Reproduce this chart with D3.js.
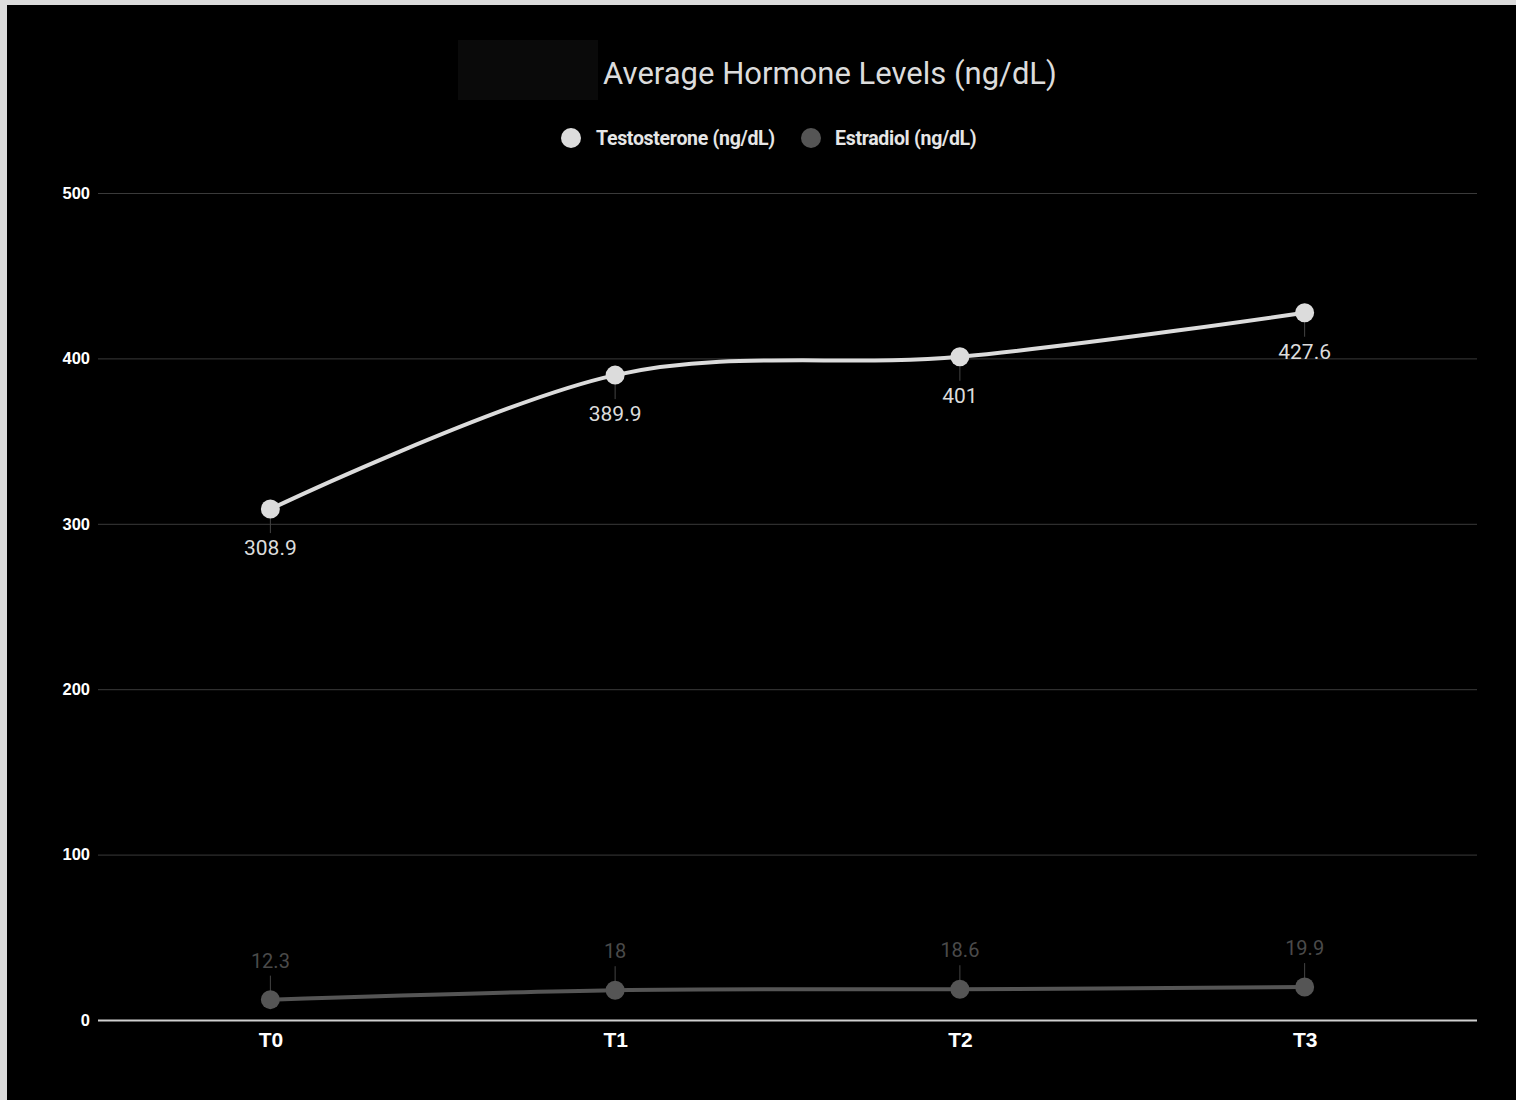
<!DOCTYPE html>
<html><head><meta charset="utf-8">
<script src="https://cdn.jsdelivr.net/npm/d3@7"></script>
<style>body{margin:0;background:#dcdcdc;}svg{display:block;font-family:Roboto,"Noto Sans",sans-serif;}</style>
</head><body>
<svg id="c" width="1516" height="1100"></svg>
<script>
const categories = ["T0","T1","T2","T3"];
const testosterone = [308.9, 389.9, 401, 427.6];
const estradiol = [12.3, 18, 18.6, 19.9];
const yTicks = [0,100,200,300,400,500];
const seriesNames = ["Testosterone (ng/dL)","Estradiol (ng/dL)"];

const svg = d3.select("#c");
svg.append("rect").attr("x",7).attr("y",5).attr("width",1509).attr("height",1095).attr("fill","#000");
svg.append("rect").attr("x",458).attr("y",40).attr("width",140).attr("height",60).attr("fill","#0a0a0a");

const x = d3.scalePoint().domain(categories).range([98,1477]).padding(0.5);
const y = d3.scaleLinear().domain([0,500]).range([1020,193]);

// grid
const yAxis = d3.axisLeft(y).tickValues(yTicks).tickSize(-(1477-98)).tickPadding(8);
const ga = svg.append("g").attr("transform","translate(98,0)").call(yAxis);
ga.select(".domain").remove();
ga.selectAll(".tick line").attr("stroke","#3a3a3a").attr("stroke-width",1);
ga.selectAll(".tick text").attr("fill","#fff").attr("font-size",16.5).attr("font-weight","bold").attr("x",-8);
ga.selectAll(".tick").filter(d=>d===0).select("line").attr("stroke","#cfcfcf").attr("stroke-width",2);

const xAxis = d3.axisBottom(x).tickSize(0).tickPadding(10);
const gx = svg.append("g").attr("transform","translate(0,1020)").call(xAxis);
gx.select(".domain").remove();
gx.selectAll(".tick text").attr("fill","#fff").attr("font-size",21).attr("font-weight","bold").attr("dy","0.8em");

// title
svg.append("text").attr("x",830).attr("y",84).attr("text-anchor","middle").attr("fill","#dcdcdc").attr("font-size",31).text("Average Hormone Levels (ng/dL)");

// legend
const colors = ["#dcdcdc","#555555"];
const leg = [{cx:571,tx:596},{cx:811,tx:835}];
seriesNames.forEach((n,i)=>{
  svg.append("circle").attr("cx",leg[i].cx).attr("cy",138).attr("r",10).attr("fill",colors[i]);
  svg.append("text").attr("x",leg[i].tx).attr("y",145).attr("fill","#e6e6e6").attr("font-size",19.5).attr("font-weight","bold").attr("letter-spacing",-0.3).text(n);
});

function drawSeries(vals, color, labelColor, below, fs){
  const data = vals.map((v,i)=>({c:categories[i],v}));
  const line = d3.line().x(d=>x(d.c)).y(d=>y(d.v)).curve(d3.curveCardinal.tension(0));
  data.forEach(d=>{
    const py=y(d.v);
    svg.append("line").attr("x1",x(d.c)).attr("x2",x(d.c)).attr("y1",py).attr("y2",below?py+24:py-24).attr("stroke","#444").attr("stroke-width",1);
  });
  svg.append("path").datum(data).attr("d",line).attr("fill","none").attr("stroke",color).attr("stroke-width",4);
  svg.selectAll(null).data(data).enter().append("circle").attr("cx",d=>x(d.c)).attr("cy",d=>y(d.v)).attr("r",9.5).attr("fill",color);
  svg.selectAll(null).data(data).enter().append("text").attr("x",d=>x(d.c)).attr("y",d=>below?y(d.v)+46:y(d.v)-32)
    .attr("text-anchor","middle").attr("fill",labelColor).attr("font-size",fs).text(d=>d.v);
}
drawSeries(testosterone,"#dcdcdc","#dcdcdc",true,21);
drawSeries(estradiol,"#555555","#4a4a4a",false,20);
</script>
</body></html>
